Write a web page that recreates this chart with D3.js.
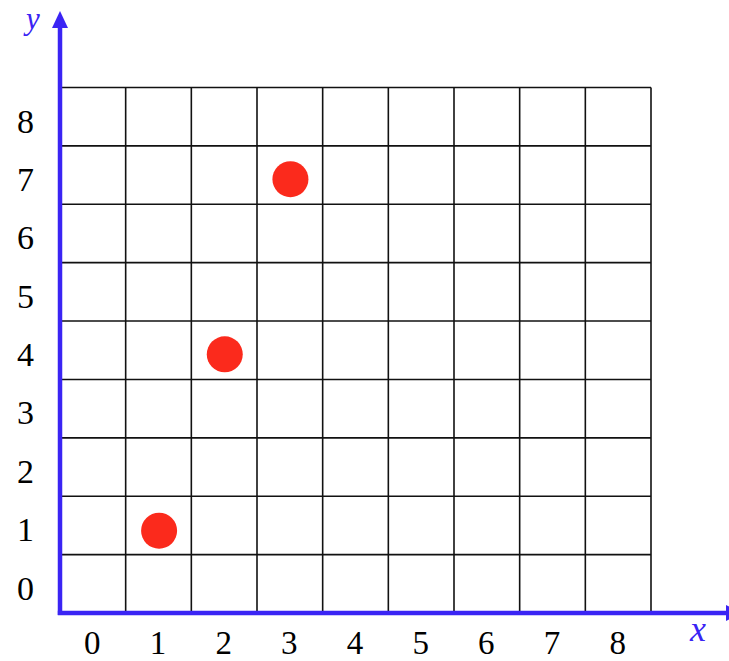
<!DOCTYPE html>
<html>
<head>
<meta charset="utf-8">
<script src="https://cdn.jsdelivr.net/npm/d3@7"></script>
<style>
  html, body { margin: 0; padding: 0; background: #fff; }
  svg { display: block; }
</style>
</head>
<body>
<svg id="chart" width="729" height="661"></svg>
<script>
// ---- data ----
const xTickLabels = ["0", "1", "2", "3", "4", "5", "6", "7", "8"];
const yTickLabels = ["0", "1", "2", "3", "4", "5", "6", "7", "8"];
const pointX = [1, 2, 3];
const pointY = [0.91, 3.93, 6.93];

// ---- layout ----
const W = 729, H = 661;
const mLeft = 60, mRight = 651, mTop = 87.5, mBottom = 613;
const axisColor = "#3a24f4";
const dotColor = "#fb2a1c";

const svg = d3.select("#chart");

const x = d3.scaleLinear().domain([-0.5, 8.5]).range([mLeft, mRight]);
const y = d3.scaleLinear().domain([-0.5, 8.5]).range([mBottom, mTop]);

const gridVals = d3.range(-0.5, 9, 1);

// grid
const grid = svg.append("g").attr("stroke", "#111").attr("stroke-width", 1.6);
grid.selectAll("line.v").data(gridVals).join("line")
  .attr("class", "v")
  .attr("x1", d => x(d)).attr("x2", d => x(d))
  .attr("y1", y(8.5)).attr("y2", y(-0.5));
grid.selectAll("line.h").data(gridVals).join("line")
  .attr("class", "h")
  .attr("x1", x(-0.5)).attr("x2", x(8.5))
  .attr("y1", d => y(d)).attr("y2", d => y(d));

// tick labels via d3 axes
const xAxis = d3.axisBottom(x)
  .tickValues(xTickLabels.map(Number))
  .tickFormat((d, i) => xTickLabels[i])
  .tickSize(0).tickPadding(17.5);
const gx = svg.append("g").attr("transform", `translate(-1,${mBottom})`).call(xAxis);
gx.select(".domain").remove();
gx.selectAll("text")
  .attr("font-family", "'Liberation Serif', 'Times New Roman', serif")
  .attr("font-size", 33).attr("fill", "#000");

const yAxis = d3.axisLeft(y)
  .tickValues(yTickLabels.map(Number))
  .tickFormat((d, i) => yTickLabels[i])
  .tickSize(0).tickPadding(26);
const gy = svg.append("g").attr("transform", `translate(${mLeft},0)`).call(yAxis);
gy.select(".domain").remove();
gy.selectAll("text")
  .attr("font-family", "'Liberation Serif', 'Times New Roman', serif")
  .attr("font-size", 34).attr("fill", "#000")
  .attr("dy", "0.45em");

// blue axes with arrows
svg.append("line")
  .attr("x1", mLeft).attr("x2", mLeft)
  .attr("y1", mBottom + 2).attr("y2", 26)
  .attr("stroke", axisColor).attr("stroke-width", 4.5);
svg.append("path")
  .attr("d", `M${mLeft},11 L${mLeft - 8},28 L${mLeft + 8},28 Z`)
  .attr("fill", axisColor);

svg.append("line")
  .attr("x1", mLeft - 2.2).attr("x2", W)
  .attr("y1", mBottom).attr("y2", mBottom)
  .attr("stroke", axisColor).attr("stroke-width", 4.5);
svg.append("path")
  .attr("d", `M${W + 12},${mBottom} L${W - 3},${mBottom - 8} L${W - 3},${mBottom + 8} Z`)
  .attr("fill", axisColor);

// axis names
svg.append("text")
  .attr("x", 33).attr("y", 29)
  .attr("text-anchor", "middle")
  .attr("font-family", "'Liberation Serif', 'Times New Roman', serif")
  .attr("font-style", "italic")
  .attr("font-size", 31)
  .attr("fill", axisColor)
  .text("y");
svg.append("text")
  .attr("x", 698).attr("y", 641)
  .attr("text-anchor", "middle")
  .attr("font-family", "'Liberation Serif', 'Times New Roman', serif")
  .attr("font-style", "italic")
  .attr("font-size", 36)
  .attr("fill", axisColor)
  .text("x");

// points
const pts = pointX.map((v, i) => ({ x: v, y: pointY[i] }));
svg.append("g").selectAll("circle").data(pts).join("circle")
  .attr("cx", d => x(d.x) + 0.6)
  .attr("cy", d => y(d.y))
  .attr("r", 18)
  .attr("fill", dotColor);
</script>
</body>
</html>
